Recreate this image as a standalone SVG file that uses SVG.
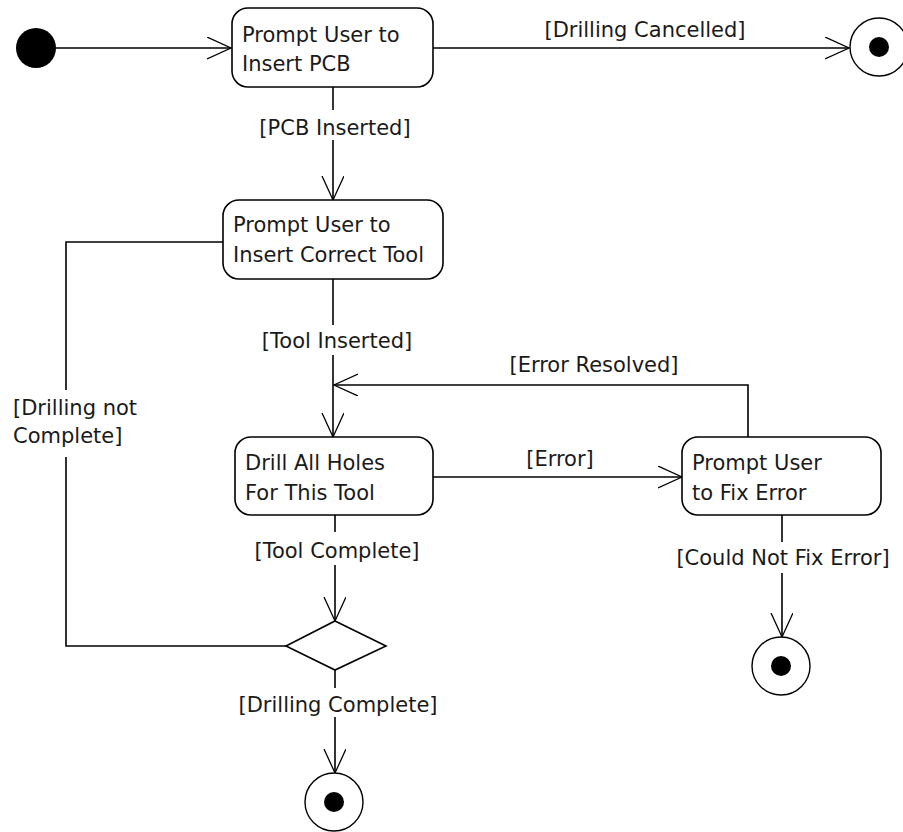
<svg xmlns="http://www.w3.org/2000/svg" width="903" height="832" viewBox="0 0 903 832">
<defs>
<marker id="open" markerUnits="userSpaceOnUse" markerWidth="26" markerHeight="24" refX="24" refY="11" orient="auto">
<path d="M0,0 L24,11 L0,22" fill="none" stroke="#000" stroke-width="1.3"/>
</marker>
<style>
.box{fill:#fff;stroke:#000;stroke-width:1.6}
.t{font-family:"DejaVu Sans",sans-serif;font-size:21px;fill:#1a1a1a}
.lbl{font-family:"DejaVu Sans",sans-serif;font-size:21px;fill:#1a1a1a;text-anchor:middle}
.c{fill:none;stroke:#000;stroke-width:1.6}
.ring{fill:#fff;stroke:#000;stroke-width:1.4}
</style>
</defs>
<rect width="903" height="832" fill="#fff"/>
<g id="connectors">
<path class="c" d="M56,48 H231" marker-end="url(#open)"/>
<path class="c" d="M433,48 H849" marker-end="url(#open)"/>
<text class="lbl" x="645" y="37">[Drilling Cancelled]</text>
<path class="c" d="M333,87 V110"/>
<text class="lbl" x="335" y="135">[PCB Inserted]</text>
<path class="c" d="M333,140 V200" marker-end="url(#open)"/>
<path class="c" d="M223,242 H66 V390"/>
<text class="t" x="13" y="415">[Drilling not</text>
<text class="t" x="13" y="443">Complete]</text>
<path class="c" d="M66,457 V646 H286"/>
<path class="c" d="M333,279 V325"/>
<text class="lbl" x="337" y="348">[Tool Inserted]</text>
<path class="c" d="M333,355 V437" marker-end="url(#open)"/>
<path class="c" d="M748,437 V385 H334" marker-end="url(#open)"/>
<text class="lbl" x="594" y="372">[Error Resolved]</text>
<path class="c" d="M433,477 H682" marker-end="url(#open)"/>
<text class="lbl" x="560" y="466">[Error]</text>
<path class="c" d="M335,515 V532"/>
<text class="lbl" x="337" y="558">[Tool Complete]</text>
<path class="c" d="M335,565 V621" marker-end="url(#open)"/>
<path class="c" d="M335,670 V688"/>
<text class="lbl" x="338" y="712">[Drilling Complete]</text>
<path class="c" d="M335,717 V773" marker-end="url(#open)"/>
<path class="c" d="M782,515 V542"/>
<text class="lbl" x="783" y="565">[Could Not Fix Error]</text>
<path class="c" d="M782,573 V637" marker-end="url(#open)"/>
</g>
<g id="start"><circle cx="36" cy="48" r="20" fill="#000"/></g>
<g id="prompt-pcb">
<rect class="box" x="232" y="8" width="201" height="79" rx="16"/>
<text class="t" x="242" y="42">Prompt User to</text>
<text class="t" x="242" y="71">Insert PCB</text>
</g>
<g id="end-cancelled"><circle class="ring" cx="879" cy="47" r="29"/><circle cx="879" cy="47" r="10" fill="#000"/></g>
<g id="prompt-tool">
<rect class="box" x="223" y="200" width="220" height="79" rx="16"/>
<text class="t" x="233" y="232">Prompt User to</text>
<text class="t" x="233" y="262">Insert Correct Tool</text>
</g>
<g id="drill">
<rect class="box" x="235" y="437" width="198" height="78" rx="16"/>
<text class="t" x="245" y="470">Drill All Holes</text>
<text class="t" x="245" y="500">For This Tool</text>
</g>
<g id="fix-error">
<rect class="box" x="682" y="437" width="199" height="78" rx="16"/>
<text class="t" x="692" y="470">Prompt User</text>
<text class="t" x="692" y="500">to Fix Error</text>
</g>
<g id="decision"><path class="box" d="M335,621 L386,646 L335,670 L286,646 Z"/></g>
<g id="end-complete"><circle class="ring" cx="334" cy="802" r="29"/><circle cx="334" cy="802" r="10" fill="#000"/></g>
<g id="end-error"><circle class="ring" cx="781" cy="666" r="29"/><circle cx="781" cy="666" r="10" fill="#000"/></g>
</svg>
